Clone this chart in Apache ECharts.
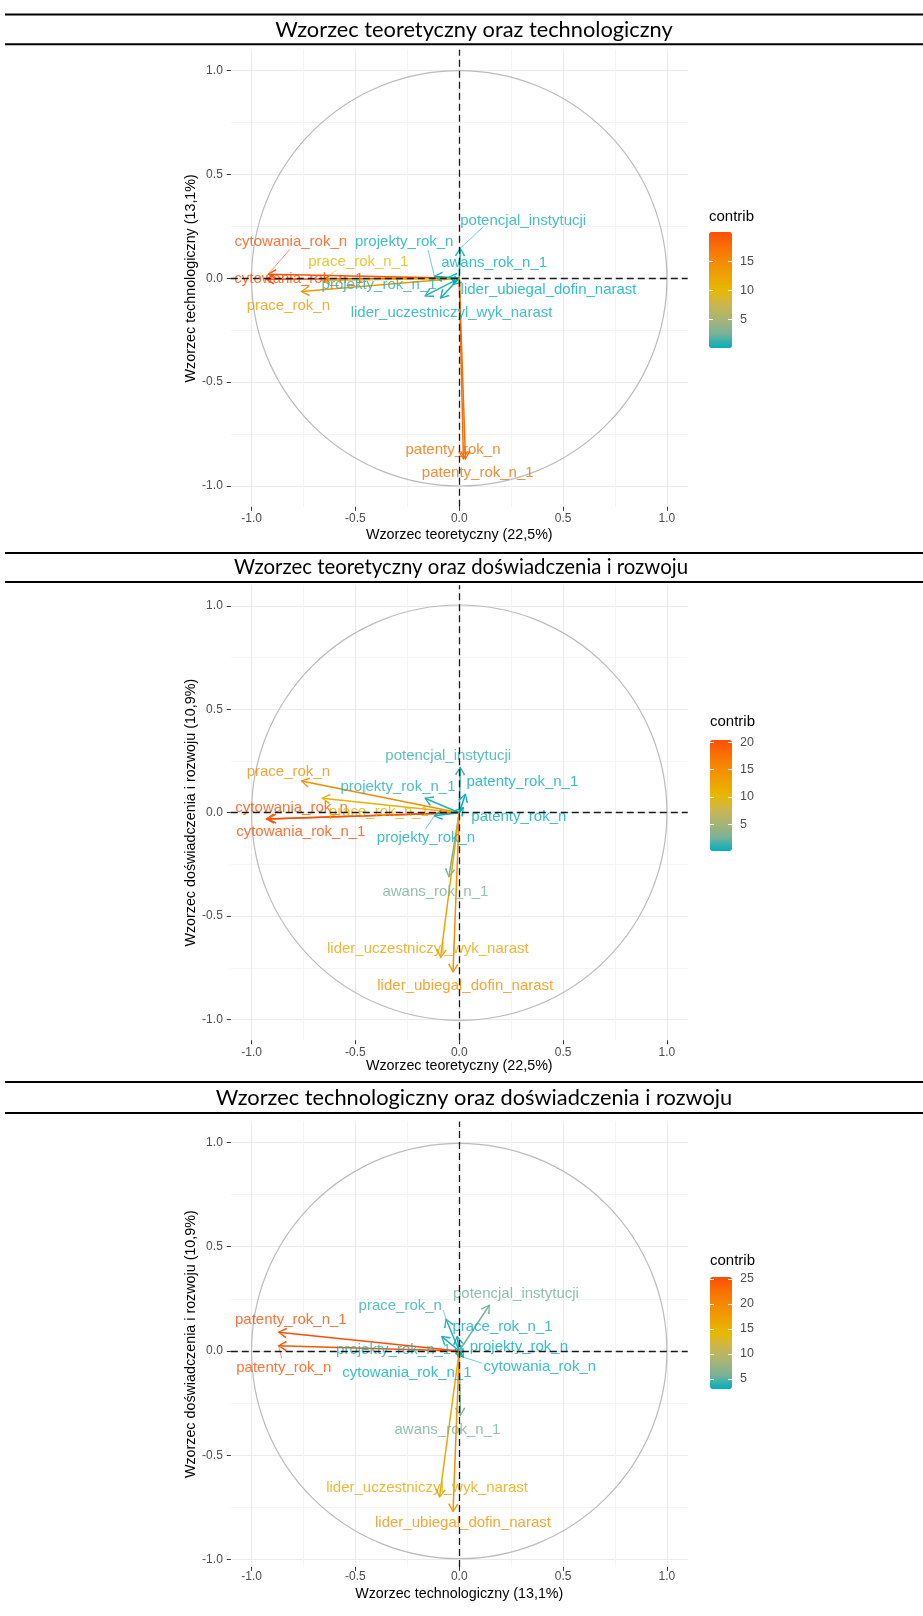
<!DOCTYPE html>
<html>
<head>
<meta charset="utf-8">
<script src="https://cdn.jsdelivr.net/npm/echarts@6/dist/echarts.min.js"></script>
<style>
html, body { margin: 0; padding: 0; background: #fff; }
#main { width: 923px; height: 1616px; }
</style>
</head>
<body>
<div id="main"></div>
<script>
const variables = ['cytowania_rok_n', 'cytowania_rok_n_1', 'prace_rok_n', 'prace_rok_n_1',
    'projekty_rok_n', 'projekty_rok_n_1', 'potencjal_instytucji', 'awans_rok_n_1',
    'lider_ubiegal_dofin_narast', 'lider_uczestniczyl_wyk_narast', 'patenty_rok_n', 'patenty_rok_n_1'];
// coordinates of variables on the three dimensions
const dimTeoretyczny = [-0.92, -0.93, -0.76, -0.66, -0.12, -0.165, 0.005, -0.05, -0.03, -0.09, 0.02, 0.03];
const dimTechnologiczny = [0.02, -0.005, -0.064, -0.01, 0.01, -0.085, 0.145, 0.005, -0.03, -0.095, -0.87, -0.87];
const dimDoswiadczenia = [-0.03, -0.03, 0.153, 0.07, -0.015, 0.07, 0.22, -0.31, -0.77, -0.70, 0.025, 0.09];
// contrib per pair of dimensions
const contrib12 = [19.8, 20.1, 13.6, 10.2, 0.3, 0.8, 0.5, 0.1, 0.05, 0.4, 17.7, 17.7];
const contrib13 = [20.0, 20.4, 15.0, 11.0, 0.4, 0.8, 1.2, 2.5, 14.8, 12.4, 0.1, 0.2];
const contrib23 = [3.2, 3.1, 4.0, 3.3, 3.0, 3.6, 5.5, 5.8, 19.0, 16.5, 25.0, 25.4];
const axisTicks = [-1, -0.5, 0, 0.5, 1];
const minorTicks = [-0.75, -0.25, 0.25, 0.75];
const legendTicks12 = [5, 10, 15];
const legendTicks13 = [5, 10, 15, 20];
const legendTicks23 = [5, 10, 15, 20, 25];

// where the repelled labels sit (data units)
const labelPos12 = [[-0.811, 0.176], [-0.772, -0.005], [-0.823, -0.133], [-0.486, 0.08], [-0.265, 0.176], [-0.386, -0.032],
    [0.308, 0.277], [0.168, 0.072], [0.43, -0.056], [-0.037, -0.166], [-0.03, -0.827], [0.089, -0.936]];
const labelPos13 = [[-0.807, 0.021], [-0.763, -0.092], [-0.823, 0.198], [-0.387, 0.005], [-0.16, -0.12], [-0.295, 0.123],
    [-0.053, 0.274], [-0.115, -0.382], [0.029, -0.838], [-0.151, -0.656], [0.287, -0.022], [0.304, 0.15]];
const labelPos23 = [[0.388, -0.077], [-0.252, -0.105], [-0.284, 0.216], [0.208, 0.117], [0.287, 0.02], [-0.316, 0.005],
    [0.273, 0.273], [-0.057, -0.379], [0.018, -0.823], [-0.155, -0.654], [-0.845, -0.081], [-0.811, 0.149]];
// ggrepel segments: [variable index, start of segment]
const segments12 = [[0, [-0.815, 0.14]], [3, [-0.59, 0.04]], [4, [-0.15, 0.136]], [6, [0.116, 0.248]]];
const segments13 = [[4, [-0.163, -0.08]]];
const segments23 = [[2, [-0.077, 0.197]], [10, [-0.855, -0.034]], [0, [0.108, -0.058]]];

const gradientColors = ['#00AFBB', '#7BB298', '#A8B474', '#CBB64E', '#E7B800', '#EEA200', '#F48A01', '#F96F04', '#FC4E07'];
const FONT = "'Liberation Sans', Arial, sans-serif";
const arrowPath = 'path://M0,-1.04L5.78,8.21L4.22,9.11L0,1.04L-4.22,9.11L-5.78,8.21ZM-10,-10L-9.9,-10L-10,-9.9ZM10,10L9.9,10L10,9.9Z';

const panels = [
    {title: 'Wzorzec teoretyczny oraz technologiczny', xs: dimTeoretyczny, ys: dimTechnologiczny, contrib: contrib12,
        labels: labelPos12, segs: segments12, legendTicks: legendTicks12,
        xName: 'Wzorzec teoretyczny (22,5%)', yName: 'Wzorzec technologiczny (13,1%)',
        top: 49.8, height: 457, yMin: -1.1, yMax: 1.1, nameGap: 21, labelMargin: 6,
        lines: [14.5, 44.3], titleY: 29.5, titleX: 474, titleSize: 21.8,
        bar: {left: 709, top: 232, w: 23, h: 116}, legendTitleY: 217},
    {title: 'Wzorzec teoretyczny oraz doświadczenia i rozwoju', xs: dimTeoretyczny, ys: dimDoswiadczenia, contrib: contrib13,
        labels: labelPos13, segs: segments13, legendTicks: legendTicks13,
        xName: 'Wzorzec teoretyczny (22,5%)', yName: 'Wzorzec doświadczenia i rozwoju (10,9%)',
        top: 585.2, height: 455, yMin: -1.1, yMax: 1.1, nameGap: 15, labelMargin: 6,
        lines: [553, 582], titleY: 567.5, titleX: 461, titleSize: 20.4,
        bar: {left: 710, top: 740, w: 22, h: 111}, legendTitleY: 722},
    {title: 'Wzorzec technologiczny oraz doświadczenia i rozwoju', xs: dimTechnologiczny, ys: dimDoswiadczenia, contrib: contrib23,
        labels: labelPos23, segs: segments23, legendTicks: legendTicks23,
        xName: 'Wzorzec technologiczny (13,1%)', yName: 'Wzorzec doświadczenia i rozwoju (10,9%)',
        top: 1121.5, height: 445.4, yMin: -1.035, yMax: 1.1, nameGap: 20, labelMargin: 4,
        lines: [1082, 1113], titleY: 1097.5, titleX: 474, titleSize: 21.8,
        bar: {left: 710, top: 1277, w: 22, h: 112}, legendTitleY: 1261}
];

function colorOf(v, lo, hi) {
    return echarts.color.lerp((v - lo) / (hi - lo), gradientColors);
}

const chartDom = document.getElementById('main');
const myChart = echarts.init(chartDom, null, {renderer: 'canvas'});

const grid = [], xAxis = [], yAxis = [], series = [], visualMap = [];

panels.forEach((p, i) => {
    const lo = Math.min(...p.contrib), hi = Math.max(...p.contrib);
    const gi = grid.length;
    grid.push({left: 230.8, top: p.top, width: 456.9, height: p.height, outerBoundsMode: 'none'});
    const xi = xAxis.length, yi = yAxis.length;
    xAxis.push({
        gridIndex: gi, type: 'value', min: -1.1, max: 1.1, position: 'bottom',
        name: p.xName, nameLocation: 'middle', nameGap: p.nameGap,
        nameTextStyle: {fontFamily: FONT, fontSize: 14.3, color: '#000'},
        axisLine: {show: false, onZero: false},
        axisTick: {show: true, length: 4, customValues: axisTicks, lineStyle: {color: '#333', width: 1}},
        axisLabel: {customValues: axisTicks, margin: p.labelMargin, fontFamily: FONT, fontSize: 12, color: '#4D4D4D',
            formatter: v => v.toFixed(1)},
        splitLine: {show: true, lineStyle: {color: '#EBEBEB', width: 1}}
    });
    xAxis.push({
        gridIndex: gi, type: 'value', min: -1.1, max: 1.1, position: 'top',
        axisLine: {show: false, onZero: false}, axisLabel: {show: false},
        axisTick: {show: false, customValues: minorTicks},
        splitLine: {show: true, lineStyle: {color: '#F4F4F4', width: 1}}
    });
    yAxis.push({
        gridIndex: gi, type: 'value', min: p.yMin, max: p.yMax, position: 'left',
        name: p.yName, nameLocation: 'middle', nameGap: 32,
        nameTextStyle: {fontFamily: FONT, fontSize: 14.3, color: '#000'},
        axisLine: {show: false, onZero: false},
        axisTick: {show: true, length: 4, customValues: axisTicks, lineStyle: {color: '#333', width: 1}},
        axisLabel: {customValues: axisTicks, margin: 8, fontFamily: FONT, fontSize: 12, color: '#4D4D4D',
            formatter: v => v.toFixed(1)},
        splitLine: {show: true, lineStyle: {color: '#EBEBEB', width: 1}}
    });
    yAxis.push({
        gridIndex: gi, type: 'value', min: p.yMin, max: p.yMax, position: 'right',
        axisLine: {show: false, onZero: false}, axisLabel: {show: false},
        axisTick: {show: false, customValues: minorTicks},
        splitLine: {show: true, lineStyle: {color: '#F4F4F4', width: 1}}
    });

    // dashed zero lines
    series.push({
        type: 'line', xAxisIndex: xi, yAxisIndex: yi, data: [[0, 0]], symbol: 'none', silent: true, z: 1,
        lineStyle: {opacity: 0},
        markLine: {
            silent: true, symbol: ['none', 'none'], animation: false,
            label: {show: false},
            lineStyle: {type: [7, 4], color: '#1a1a1a', width: 1.3},
            data: [{xAxis: 0}, {yAxis: 0}]
        }
    });
    // arrows
    series.push({
        type: 'lines', coordinateSystem: 'cartesian2d', xAxisIndex: xi, yAxisIndex: yi, z: 3, silent: true,
        symbol: ['none', arrowPath], symbolSize: 18,
        lineStyle: {width: 1.5, opacity: 1, curveness: 0},
        data: variables.map((v, k) => ({
            coords: [[0, 0], [p.xs[k], p.ys[k]]],
            lineStyle: {color: colorOf(p.contrib[k], lo, hi)}
        }))
    });
    // label segments
    series.push({
        type: 'lines', coordinateSystem: 'cartesian2d', xAxisIndex: xi, yAxisIndex: yi, z: 3, silent: true,
        symbol: ['none', 'none'], lineStyle: {width: 0.6, opacity: 1},
        data: p.segs.map(([k, from]) => ({
            coords: [from, [p.xs[k], p.ys[k]]],
            lineStyle: {color: colorOf(p.contrib[k], lo, hi)}
        }))
    });
    // labels
    const labelSeries = series.length;
    series.push({
        type: 'scatter', xAxisIndex: xi, yAxisIndex: yi, z: 4, silent: true, symbolSize: 0,
        label: {show: true, position: 'inside', formatter: '{b}', fontFamily: FONT, fontSize: 15},
        labelLayout: {hideOverlap: false},
        data: variables.map((v, k) => ({
            name: v,
            value: [p.labels[k][0], p.labels[k][1], p.contrib[k]],
            label: {color: colorOf(p.contrib[k], lo, hi)}
        }))
    });

    // colour bar
    visualMap.push({
        type: 'continuous', min: lo, max: hi, dimension: 2, seriesIndex: labelSeries,
        inRange: {color: gradientColors}, calculable: false, hoverLink: false,
        left: p.bar.left, top: p.bar.top, itemWidth: p.bar.w, itemHeight: p.bar.h, padding: 0
    });
    const bg = grid.length;
    grid.push({left: p.bar.left, top: p.bar.top, width: p.bar.w, height: p.bar.h, outerBoundsMode: 'none'});
    xAxis.push({gridIndex: bg, type: 'value', show: false});
    yAxis.push({
        gridIndex: bg, type: 'value', min: lo, max: hi, position: 'right', z: 10,
        axisLine: {show: false, onZero: false},
        axisTick: {show: true, inside: true, length: 4, customValues: p.legendTicks, lineStyle: {color: '#fff', width: 1}},
        axisLabel: {customValues: p.legendTicks, margin: 8, fontFamily: FONT, fontSize: 12.5, color: '#4D4D4D'},
        splitLine: {show: false}
    });
    yAxis.push({
        gridIndex: bg, type: 'value', min: lo, max: hi, position: 'left', z: 10,
        axisLine: {show: false, onZero: false},
        axisTick: {show: true, inside: true, length: 4, customValues: p.legendTicks, lineStyle: {color: '#fff', width: 1}},
        axisLabel: {show: false},
        splitLine: {show: false}
    });
    p.axes = [xi, yi];
});

let option = {
    animation: false,
    backgroundColor: '#fff',
    grid, xAxis, yAxis, series, visualMap
};
myChart.setOption(option);

// unit circles, title bars and legend titles
const graphics = [];
panels.forEach(p => {
    const finder = {xAxisIndex: p.axes[0], yAxisIndex: p.axes[1]};
    const c = myChart.convertToPixel(finder, [0, 0]);
    const e = myChart.convertToPixel(finder, [1, 0]);
    graphics.push({
        type: 'circle', z: 1, silent: true,
        shape: {cx: c[0], cy: c[1], r: e[0] - c[0]},
        style: {fill: 'none', stroke: '#BBBBBB', lineWidth: 1.2}
    });
    p.lines.forEach(y => graphics.push({
        type: 'line', z: 10, silent: true,
        shape: {x1: 5, y1: y, x2: 923, y2: y},
        style: {stroke: '#000', lineWidth: 2}
    }));
    graphics.push({
        type: 'text', z: 10, silent: true, x: p.titleX, y: p.titleY,
        style: {text: p.title, fill: '#000', font: p.titleSize + "px Lato, 'Open Sans', sans-serif", textAlign: 'center', textVerticalAlign: 'middle'}
    });
    graphics.push({
        type: 'text', z: 10, silent: true, x: p.bar.left, y: p.legendTitleY,
        style: {text: 'contrib', fill: '#000', font: "15px 'Liberation Sans', Arial, sans-serif", textAlign: 'left', textVerticalAlign: 'middle'}
    });
});
myChart.setOption({graphic: graphics});
</script>
</body>
</html>
